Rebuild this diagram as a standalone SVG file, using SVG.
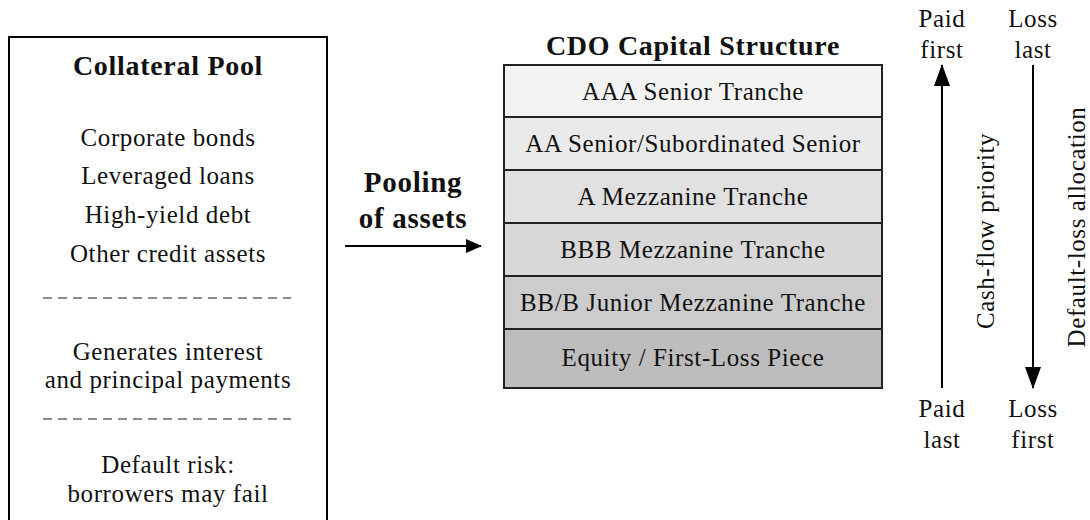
<svg xmlns="http://www.w3.org/2000/svg" width="1090" height="520" viewBox="0 0 1090 520">
<style>
text{font-family:"Liberation Serif","Times New Roman",serif;font-size:25px;letter-spacing:0.6px;fill:#111;text-anchor:middle}
.b{font-weight:bold;font-size:28px;letter-spacing:0.7px}
.pb{font-weight:bold;font-size:29px;letter-spacing:0.7px}
.dash{stroke:#666;stroke-width:1.5;stroke-dasharray:9 6}
.tr{stroke:#222;stroke-width:2}
.ln{stroke:#000;stroke-width:2;fill:none}
</style>
<defs>
<marker id="ah" viewBox="0 0 16 14" refX="15" refY="7" markerWidth="16" markerHeight="14" markerUnits="userSpaceOnUse" orient="auto"><path d="M0,0 L16,7 L0,14 Z" fill="#000"/></marker>
<marker id="ah2" viewBox="0 0 22 16" refX="21" refY="8" markerWidth="22" markerHeight="16" markerUnits="userSpaceOnUse" orient="auto"><path d="M0,0 L22,8 L0,16 Z" fill="#000"/></marker>
</defs>
<rect width="1090" height="520" fill="#fff"/>
<g id="collateral-pool">
<rect x="9" y="37" width="318" height="510" fill="#fff" stroke="#000" stroke-width="2"/>
<text class="b" x="168" y="75">Collateral Pool</text>
<text x="168" y="146">Corporate bonds</text>
<text x="168" y="184">Leveraged loans</text>
<text x="168" y="223">High-yield debt</text>
<text x="168" y="262">Other credit assets</text>
<line class="dash" x1="43" y1="298" x2="291" y2="298"/>
<text x="168" y="360">Generates interest</text>
<text x="168" y="388">and principal payments</text>
<line class="dash" x1="43" y1="419" x2="291" y2="419"/>
<text x="168" y="473">Default risk:</text>
<text x="168" y="502">borrowers may fail</text>
</g>
<g id="pooling-label">
<text class="pb" x="413" y="192">Pooling</text>
<text class="pb" x="413" y="228">of assets</text>
</g>
<g id="cdo-structure">
<text class="b" x="693" y="55">CDO Capital Structure</text>
<g id="aaa"><rect class="tr" x="504" y="65" width="378" height="52" fill="#f3f3f3"/><text x="693" y="100">AAA Senior Tranche</text></g>
<g id="aa"><rect class="tr" x="504" y="117" width="378" height="53" fill="#eaeaea"/><text x="693" y="152">AA Senior/Subordinated Senior</text></g>
<g id="a"><rect class="tr" x="504" y="170" width="378" height="53" fill="#e0e0e0"/><text x="693" y="205">A Mezzanine Tranche</text></g>
<g id="bbb"><rect class="tr" x="504" y="223" width="378" height="53" fill="#d8d8d8"/><text x="693" y="258">BBB Mezzanine Tranche</text></g>
<g id="bbb-junior"><rect class="tr" x="504" y="276" width="378" height="53" fill="#cccccc"/><text x="693" y="311">BB/B Junior Mezzanine Tranche</text></g>
<g id="equity"><rect class="tr" x="504" y="329" width="378" height="59" fill="#bdbdbd"/><text x="693" y="366">Equity / First-Loss Piece</text></g>
</g>
<g id="cashflow-labels">
<text x="942" y="27">Paid</text><text x="942" y="58">first</text>
<text x="942" y="417">Paid</text><text x="942" y="448">last</text>
<text transform="translate(994,231) rotate(-90)">Cash-flow priority</text>
</g>
<g id="loss-labels">
<text x="1033" y="27">Loss</text><text x="1033" y="58">last</text>
<text x="1033" y="417">Loss</text><text x="1033" y="448">first</text>
<text transform="translate(1085,227) rotate(-90)">Default-loss allocation</text>
</g>
<g id="connectors">
<line class="ln" x1="345" y1="246" x2="481" y2="246" marker-end="url(#ah)"/>
<line class="ln" x1="942" y1="388" x2="942" y2="65" marker-end="url(#ah2)"/>
<line class="ln" x1="1033" y1="65" x2="1033" y2="388" marker-end="url(#ah2)"/>
</g>
</svg>
